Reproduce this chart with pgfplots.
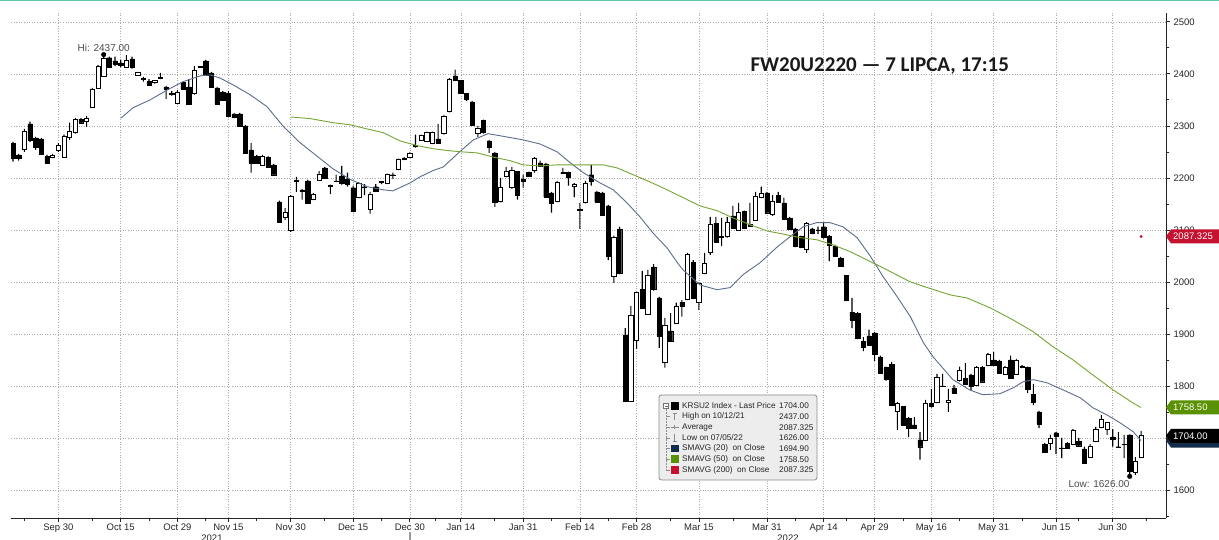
\documentclass[border=0pt]{standalone}
\usepackage{pgfplots}
\pgfplotsset{compat=1.18}
\usepackage{pgfplotstable}
\usepackage{fontspec}
\setmainfont{Liberation Sans}
\newfontfamily\titlefont{Carlito}

\definecolor{maA}{RGB}{92,110,140}
\definecolor{maB}{RGB}{118,165,52}
\definecolor{tagred}{RGB}{196,18,48}
\definecolor{taggreen}{RGB}{90,145,0}
\definecolor{tagnavy}{RGB}{18,44,76}
\definecolor{gridc}{RGB}{170,170,170}
\definecolor{topline}{RGB}{95,200,170}

\pgfplotstableread{
n o h l c
1 2267 2269 2231 2238
2 2244 2246 2233 2237
3 2254 2294 2250 2290
4 2304 2308 2269 2273
5 2277 2279 2254 2258
6 2275 2277 2244 2246
7 2242 2244 2227 2229
8 2240 2246 2238 2244
9 2252 2267 2250 2263
10 2240 2283 2240 2279
11 2277 2306 2273 2290
12 2287 2315 2285 2313
13 2313 2315 2304 2306
14 2308 2319 2298 2315
15 2335 2373 2335 2371
16 2373 2417 2371 2415
17 2396 2437 2394 2430
18 2431 2433 2412 2413
19 2425 2433 2415 2419
20 2421 2427 2413 2417
21 2413 2436 2412 2425
22 2429 2433 2410 2412
23 2398 2404 2396 2402
24 2390 2394 2385 2391
25 2385 2390 2378 2379
26 2383 2388 2381 2387
27 2392 2402 2390 2393
28 2375 2377 2352 2371
29 2363 2367 2358 2360
30 2344 2369 2342 2365
31 2383 2385 2369 2371
32 2375 2390 2341 2342
33 2362 2415 2360 2406
34 2414 2415 2412 2413
35 2425 2427 2396 2398
36 2402 2404 2373 2375
37 2373 2375 2340 2342
38 2365 2367 2348 2350
39 2362 2367 2317 2319
40 2323 2325 2315 2317
41 2323 2325 2298 2300
42 2300 2302 2246 2248
43 2254 2267 2210 2229
44 2242 2244 2227 2229
45 2225 2244 2223 2242
46 2240 2242 2219 2221
47 2225 2227 2204 2206
48 2154 2156 2114 2115
49 2125 2142 2119 2133
50 2100 2167 2096 2164
51 2194 2202 2173 2196
52 2177 2179 2158 2175
53 2194 2196 2151 2152
54 2158 2171 2157 2169
55 2196 2213 2194 2206
56 2219 2221 2199 2200
57 2185 2187 2169 2184
58 2194 2206 2192 2193
59 2204 2223 2187 2190
60 2198 2210 2183 2188
61 2181 2185 2134 2135
62 2163 2192 2161 2190
63 2183 2188 2167 2182
64 2140 2173 2131 2169
65 2183 2188 2173 2175
66 2192 2194 2188 2193
67 2190 2208 2188 2206
68 2206 2210 2198 2205
69 2217 2237 2215 2235
70 2238 2240 2234 2235
71 2240 2250 2239 2248
72 2262 2283 2258 2260
73 2273 2283 2271 2281
74 2271 2289 2269 2287
75 2267 2289 2265 2287
76 2275 2304 2266 2267
77 2285 2321 2283 2319
78 2327 2392 2326 2390
79 2396 2408 2386 2387
80 2387 2388 2362 2363
81 2362 2363 2348 2352
82 2346 2348 2301 2302
83 2285 2300 2279 2296
84 2310 2312 2285 2288
85 2271 2273 2248 2258
86 2248 2250 2144 2154
87 2154 2200 2153 2181
88 2202 2221 2201 2212
89 2181 2221 2179 2215
90 2212 2213 2158 2167
91 2198 2206 2181 2194
92 2210 2212 2202 2204
93 2215 2240 2210 2238
94 2229 2233 2221 2223
95 2227 2229 2162 2163
96 2171 2173 2133 2152
97 2154 2194 2153 2192
98 2210 2219 2207 2208
99 2210 2212 2185 2202
100 2183 2190 2163 2188
101 2138 2152 2102 2139
102 2152 2194 2151 2190
103 2206 2225 2185 2194
104 2173 2175 2152 2154
105 2171 2173 2127 2129
106 2146 2148 2042 2050
107 2010 2089 1998 2085
108 2102 2106 2015 2017
109 1898 1911 1770 1771
110 1771 1954 1770 1935
111 1888 1981 1871 1979
112 1985 2021 1948 1950
113 1938 2023 1937 2013
114 2029 2034 1983 1985
115 1969 1971 1873 1896
116 1846 1931 1835 1917
117 1906 1940 1885 1886
118 1921 1960 1920 1952
119 1961 1965 1933 1954
120 1967 2056 1965 2052
121 2038 2042 1967 1969
122 1960 2000 1946 1998
123 2017 2056 2015 2036
124 2056 2125 2052 2110
125 2113 2125 2075 2077
126 2085 2123 2069 2088
127 2087 2125 2085 2115
128 2127 2146 2102 2104
129 2100 2152 2098 2133
130 2135 2137 2102 2104
131 2111 2152 2106 2108
132 2119 2173 2118 2165
133 2163 2183 2161 2171
134 2171 2173 2131 2133
135 2129 2167 2127 2154
136 2167 2173 2152 2154
137 2152 2162 2119 2121
138 2123 2125 2100 2102
139 2102 2104 2067 2069
140 2087 2089 2065 2067
141 2062 2115 2056 2113
142 2102 2104 2092 2094
143 2100 2106 2092 2099
144 2106 2113 2083 2085
145 2088 2090 2040 2071
146 2069 2071 2048 2050
147 2046 2048 2029 2031
148 2012 2013 1963 1965
149 1942 1969 1911 1927
150 1940 1942 1890 1892
151 1885 1894 1867 1875
152 1896 1908 1877 1879
153 1902 1904 1848 1861
154 1856 1858 1823 1825
155 1835 1837 1810 1812
156 1842 1846 1761 1763
157 1752 1769 1715 1767
158 1760 1761 1723 1725
159 1738 1740 1702 1719
160 1725 1740 1717 1719
161 1696 1711 1658 1683
162 1696 1773 1694 1767
163 1767 1794 1758 1760
164 1769 1823 1767 1817
165 1800 1823 1798 1799
166 1769 1794 1750 1773
167 1796 1802 1785 1786
168 1810 1837 1808 1829
169 1815 1844 1802 1804
170 1821 1823 1792 1800
171 1802 1838 1800 1835
172 1836 1838 1806 1808
173 1840 1863 1838 1860
174 1850 1865 1838 1840
175 1848 1850 1823 1825
176 1823 1838 1821 1836
177 1850 1858 1813 1815
178 1823 1852 1821 1850
179 1838 1840 1834 1836
180 1835 1837 1786 1794
181 1784 1804 1763 1769
182 1750 1752 1719 1727
183 1688 1690 1671 1673
184 1690 1706 1677 1700
185 1710 1711 1669 1704
186 1681 1700 1661 1680
187 1690 1692 1679 1681
188 1688 1717 1686 1715
189 1694 1700 1683 1685
190 1679 1683 1650 1652
191 1663 1688 1661 1683
192 1694 1721 1692 1717
193 1721 1744 1719 1736
194 1717 1731 1706 1729
195 1702 1717 1683 1698
196 1683 1711 1681 1682
197 1688 1706 1661 1687
198 1706 1707 1626 1636
199 1633 1663 1629 1654
200 1663 1713 1661 1704
}\candles

\pgfplotstableread{
n v
20.05 2315
22.2 2335
25.2 2350
28.2 2369
31.0 2385
34.0 2396
35.8 2398
37.5 2392
39.8 2379
42.8 2360
45.8 2337
48.6 2300
51.6 2268
54.6 2242
57.5 2217
60.5 2197
63.5 2183
66.3 2177
68.0 2175
71.0 2190
72.8 2202
75.1 2214
76.9 2221
80.2 2254
82.2 2273
84.8 2285
86.9 2281
91.0 2273
94.0 2265
97.0 2250
99.3 2229
101.6 2210
104.6 2190
106.9 2177
109.3 2152
111.6 2125
113.9 2094
116.4 2065
118.2 2037
119.2 2023
122.2 1994
125.2 1985
127.5 1989
129.8 2014
132.8 2037
135.8 2067
138.1 2087
140.4 2106
142.8 2114
145.1 2114
147.4 2106
149.9 2085
152.2 2050
154.5 2010
157.0 1971
159.3 1933
161.6 1883
163.3 1856
166.8 1812
169.8 1792
172.1 1783
175.1 1785
177.4 1796
179.2 1808
181.0 1812
183.4 1806
186.3 1792
189.3 1777
191.5 1758
194.0 1744
196.3 1729
198.6 1712
200 1694.9
}\smaA

\pgfplotstableread{
n v
50.05 2317
53.4 2314
57.5 2306
60.5 2302
63.5 2294
66.3 2287
69.3 2271
72.3 2262
75.1 2256
78.1 2252
80.2 2250
82.9 2248
85.7 2240
88.7 2233
91.0 2225
94.0 2223
97.0 2225
99.8 2225
102.8 2225
105.1 2225
107.6 2219
110.4 2206
113.4 2192
116.4 2177
119.2 2162
122.2 2146
125.2 2137
128.0 2123
131.0 2110
134.0 2098
136.8 2092
139.9 2085
142.8 2081
145.7 2071
148.7 2058
151.7 2042
155.2 2023
159.3 2000
162.3 1989
166.3 1975
169.3 1969
173.4 1950
177.4 1927
181.0 1904
184.5 1875
188.0 1850
191.5 1821
195.1 1792
198.6 1767
200 1758.5
}\smaB

\pgfplotsset{
  base/.style={scale only axis, width=1155pt, height=505pt,
    at={(11pt,22pt)}, anchor=south west,
    xmin=0.647, xmax=204.4, ymin=1546, ymax=2517},
}

\begin{document}
\begin{tikzpicture}[x=1pt,y=1pt]
\useasboundingbox (0,0) rectangle (1219,540);
\fill[white] (0,0) rectangle (1219,540);
\draw[topline, line width=1.5pt] (0,539.5) -- (1219,539.5);

% main axis: grid, ticks, labels
\begin{axis}[base,
  axis x line*=bottom, axis y line*=right,
  axis line style={black!85, line width=0.8pt},
  xtick={9,20,30,39,50,61,71,80,91,101,111,122,134,144,153,163,174,185,195},
  xticklabels={Sep 30,Oct 15,Oct 29,Nov 15,Nov 30,Dec 15,Dec 30,Jan 14,Jan 31,Feb 14,Feb 28,Mar 15,Mar 31,Apr 14,Apr 29,May 16,May 31,Jun 15,Jun 30},
  minor xtick={3,15,25,35,44,56,66,75.5,86,96,106,117,128,139,148,158,168,179,189,201},
  ytick={1600,1700,...,2500},
  minor ytick={1550,1650,...,2450},
  tick align=outside,
  major tick length=4pt, minor tick length=3pt,
  tick style={black!85, line width=0.7pt},
  xmajorgrids, ymajorgrids,
  major grid style={gridc, line width=0.6pt, dash pattern=on 1pt off 1.6pt},
  ticklabel style={font=\fontsize{9.5}{11}\selectfont, text=black!85},
  /pgf/number format/1000 sep={},
  /pgf/number format/assume math mode=true,
  xticklabel style={yshift=2pt},
]
\addplot[draw=none] coordinates {(1,2000)};
\end{axis}

% wicks
\begin{axis}[base, hide axis, ybar stacked, bar width=1.1pt]
\addplot[draw=none, fill=none] table[x=n, y=l] {\candles};
\addplot[draw=none, fill=black] table[x=n, y expr={\thisrow{h}-\thisrow{l}}] {\candles};
\end{axis}

% bodies
\begin{axis}[base, hide axis, ybar stacked, bar width=0.76]
\addplot[draw=none, fill=none] table[x=n, y expr={min(\thisrow{o},\thisrow{c})}] {\candles};
\addplot[draw=black, fill=black, line width=0.4pt] table[x=n, y expr={(\thisrow{o}>\thisrow{c}) ? (\thisrow{o}-\thisrow{c}) : 0}] {\candles};
\addplot[draw=black, fill=white, line width=0.7pt] table[x=n, y expr={(\thisrow{o}>\thisrow{c}) ? 0 : (\thisrow{c}-\thisrow{o})}] {\candles};
\end{axis}

% moving averages, markers, annotations
\begin{axis}[base, hide axis, clip=false]
\addplot[maA, line width=0.9pt] table[x=n, y=v] {\smaA};
\addplot[maB, line width=0.9pt] table[x=n, y=v] {\smaB};
\addplot[only marks, mark=*, mark size=2.3pt, black] coordinates {(17,2437) (198,1626)};
\addplot[only marks, mark=*, mark size=1.2pt, tagred, mark options={draw=tagred, fill=tagred}] coordinates {(200,2087.325)};
\node[anchor=south, text=black!70, font=\fontsize{10}{12}\selectfont, inner sep=1pt, yshift=2pt] at (axis cs:17,2437) {Hi: 2437.00};
\node[anchor=north east, text=black!70, font=\fontsize{10}{12}\selectfont, inner sep=1pt, yshift=-3pt, xshift=1pt] at (axis cs:198,1626) {Low: 1626.00};
\coordinate (tR) at (axis cs:204.4,2087.325);
\coordinate (tG) at (axis cs:204.4,1758.5);
\coordinate (tK) at (axis cs:204.4,1704);
\coordinate (tN) at (axis cs:204.4,1694.9);
\end{axis}

% price tags on the right
\foreach \c/\col/\txt in {tN/tagnavy/1694.90, tK/black/1704.00, tG/taggreen/1758.50, tR/tagred/2087.325}{
  \fill[\col] (\c) -- ++(5,7) -- ++(48,0) -- ++(0,-14) -- ++(-48,0) -- cycle;
  \node[anchor=west, text=white, font=\fontsize{9.5}{11}\selectfont, inner sep=0pt] at ([xshift=7pt]\c) {\txt};
}

% title
\node[anchor=west, font=\titlefont\bfseries\fontsize{21}{25}\selectfont, text=black!90] at (747,473.5) {FW20U2220 — 7 LIPCA, 17:15};

% year labels
\node[font=\fontsize{9.5}{11}\selectfont, text=black!85] at (212,2) {2021};
\node[font=\fontsize{9.5}{11}\selectfont, text=black!85] at (788,2) {2022};
\draw[black!40, line width=1.5pt] (410,0) -- (410,8);

% legend box
\begin{scope}[font=\fontsize{8.2}{9.5}\selectfont]
\draw[rounded corners=2.5pt, fill=black!7, draw=black!45, line width=0.8pt] (659,60) rectangle (817,145);
\draw[black!45, line width=0.5pt, densely dotted] (666,131) -- (666,70);
\foreach \yy in {123.3,112.7,102,91.3,80.7,70}{\draw[black!45, line width=0.5pt] (666,\yy) -- (670,\yy);}
\draw[black!55, fill=white, line width=0.5pt] (663.5,131.5) rectangle (668.5,136.5);
\draw[black!55, line width=0.5pt] (664.5,134) -- (667.5,134);
\fill[black] (671,130.3) rectangle (678.5,137.8);
\draw[black!45, line width=0.7pt] (674.7,119.5) -- (674.7,127) (672.5,127) -- (677,127);
\draw[black!45, line width=0.7pt] (671,112.7) -- (678.5,112.7) (674.7,110.7) -- (674.7,114.7);
\draw[black!45, line width=0.7pt] (674.7,98.5) -- (674.7,106) (672.5,98.5) -- (677,98.5);
\fill[tagnavy] (671,87.6) rectangle (678.5,95.1);
\fill[taggreen] (671,77) rectangle (678.5,84.5);
\fill[tagred] (671,66.3) rectangle (678.5,73.8);
\foreach \yy/\lab/\val in {134/{KRSU2 Index - Last Price}/1704.00, 123.3/{High on 10/12/21}/2437.00, 112.7/{Average}/2087.325, 102/{Low on 07/05/22}/1626.00, 91.3/{SMAVG (20)~~on Close}/1694.90, 80.7/{SMAVG (50)~~on Close}/1758.50, 70/{SMAVG (200)~~on Close}/2087.325}{
  \node[anchor=west, inner sep=0pt, text=black!85] at (682,\yy) {\lab};
  \node[anchor=west, inner sep=0pt, text=black!85] at (779,\yy) {\val};
}
\end{scope}
\end{tikzpicture}
\end{document}
